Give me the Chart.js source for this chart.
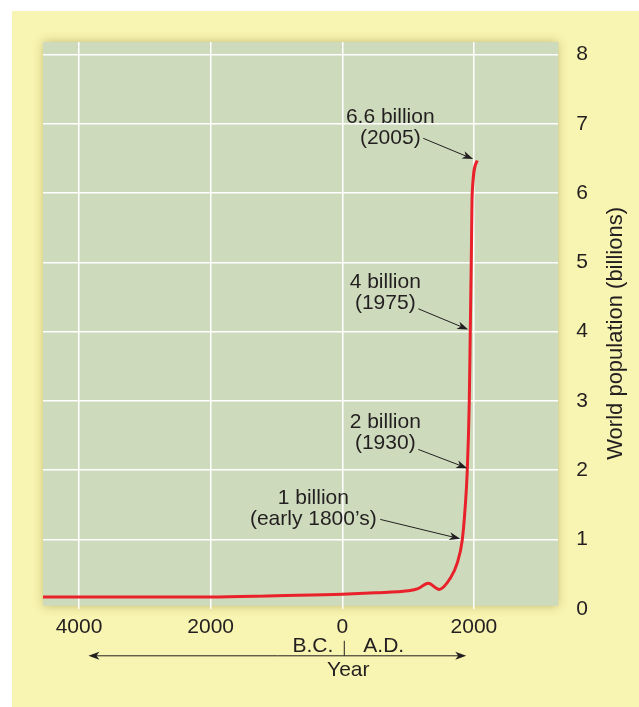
<!DOCTYPE html>
<html lang="en">
<head>
<meta charset="UTF-8">
<title>World population</title>
<script src="https://cdn.jsdelivr.net/npm/chart.js"></script>
<style>
    body { margin: 0; background: #fff; }
    #wrap { width: 639px; height: 707px; }
</style>
</head>
<body>
<div id="wrap"><canvas id="popChart"></canvas></div>
<script>
// values (year, billions)
const years = [-4547, -3000, -2000, -1000, 0, 500, 1000, 1150, 1306, 1473, 1640, 1746, 1822, 1868, 1898, 1929, 1944, 1959, 1974, 2050];
const population = [0.17, 0.17, 0.17, 0.19, 0.21, 0.23, 0.26, 0.29, 0.37, 0.28, 0.44, 0.66, 0.99, 1.48, 1.98, 2.98, 3.98, 4.98, 6.0, 6.47];
const xTicks = [-4000, -2000, 0, 2000];
const yTicks = [0, 1, 2, 3, 4, 5, 6, 7, 8];
const yTitle = 'World population (billions)';
const eraLabels = ['B.C.', 'A.D.'];
const xTitle = 'Year';
const yearArrow = [-3857, 1883];

// callouts: text centre, arrow start and arrow tip, all in (year, billions)
const notes = [
    { lines: ['6.6 billion', '(2005)'], at: [729, 7.10], from: [1230, 6.79], to: [1989, 6.49] },
    { lines: ['4 billion', '(1975)'], at: [653, 4.72], from: [1154, 4.33], to: [1913, 4.03] },
    { lines: ['2 billion', '(1930)'], at: [653, 2.69], from: [1154, 2.30], to: [1898, 2.03] },
    { lines: ['1 billion', '(early 1800\u2019s)'], at: [-440, 1.60], from: [577, 1.29], to: [1792, 1.01] }
];

const FONT = '"Liberation Sans", Arial, Helvetica, sans-serif';
const INK = '#231f20';

function arrow(ctx, x1, y1, x2, y2) {
    const a = Math.atan2(y2 - y1, x2 - x1);
    ctx.beginPath();
    ctx.moveTo(x1, y1);
    ctx.lineTo(x2 - 6 * Math.cos(a), y2 - 6 * Math.sin(a));
    ctx.stroke();
    ctx.save();
    ctx.translate(x2, y2);
    ctx.rotate(a);
    ctx.beginPath();
    ctx.moveTo(0, 0);
    ctx.lineTo(-11, -4);
    ctx.lineTo(-8, 0);
    ctx.lineTo(-11, 4);
    ctx.closePath();
    ctx.fill();
    ctx.restore();
}

const decor = {
    id: 'decor',
    beforeDraw(chart) {
        const { ctx, chartArea: a, width, height } = chart;
        ctx.save();
        ctx.fillStyle = '#fff';
        ctx.fillRect(0, 0, width, height);
        ctx.fillStyle = '#f8f4b1';
        ctx.fillRect(12, 11, width - 12, height - 11);
        ctx.shadowColor = 'rgba(130, 115, 30, 0.45)';
        ctx.shadowBlur = 9;
        ctx.fillStyle = '#cddabc';
        ctx.fillRect(a.left, a.top, a.right - a.left, a.bottom - 3 - a.top);
        ctx.restore();
    },
    afterDraw(chart) {
        const { ctx, chartArea: a } = chart;
        const xs = chart.scales.x, ys = chart.scales.y;
        ctx.save();
        ctx.fillStyle = INK;
        ctx.strokeStyle = INK;
        ctx.lineWidth = 1;
        ctx.font = '21px ' + FONT;
        ctx.textAlign = 'center';
        ctx.textBaseline = 'middle';

        notes.forEach(n => {
            const cx = xs.getPixelForValue(n.at[0]);
            const cy = ys.getPixelForValue(n.at[1]);
            n.lines.forEach((t, i) => ctx.fillText(t, cx, cy + i * 21));
            arrow(ctx, xs.getPixelForValue(n.from[0]), ys.getPixelForValue(n.from[1]),
                xs.getPixelForValue(n.to[0]), ys.getPixelForValue(n.to[1]));
        });

        // y title, reads bottom to top
        ctx.save();
        ctx.font = '22px ' + FONT;
        ctx.translate(a.right + 58, (a.top + a.bottom) / 2 + 8);
        ctx.rotate(-Math.PI / 2);
        ctx.fillText(yTitle, 0, 0);
        ctx.restore();

        // B.C. | A.D. and the Year arrow
        const x0 = xs.getPixelForValue(0) + 2;
        const yb = a.bottom;
        ctx.beginPath();
        ctx.moveTo(x0, yb + 32);
        ctx.lineTo(x0, yb + 47);
        ctx.stroke();
        ctx.textAlign = 'right';
        ctx.fillText(eraLabels[0], x0 - 11, yb + 37);
        ctx.textAlign = 'left';
        ctx.fillText(eraLabels[1], x0 + 19, yb + 37);
        ctx.textAlign = 'center';
        ctx.fillText(xTitle, x0 + 4, yb + 61);
        const l = xs.getPixelForValue(yearArrow[0]);
        const r = xs.getPixelForValue(yearArrow[1]);
        arrow(ctx, (l + r) / 2, yb + 47, l, yb + 47);
        arrow(ctx, (l + r) / 2, yb + 47, r, yb + 47);
        ctx.restore();
    }
};

new Chart(document.getElementById('popChart'), {
    type: 'line',
    data: {
        datasets: [{
            data: years.map((x, i) => ({ x: x, y: population[i] })),
            borderColor: '#e8212a',
            borderWidth: 3,
            pointRadius: 0,
            cubicInterpolationMode: 'monotone',
            fill: false
        }]
    },
    options: {
        responsive: true,
        maintainAspectRatio: false,
        animation: false,
        layout: { padding: { left: 43, top: 42, right: 33, bottom: 61 } },
        plugins: { legend: { display: false }, tooltip: { enabled: false } },
        scales: {
            x: {
                type: 'linear',
                min: -4547,
                max: 3282,
                afterBuildTicks: s => { s.ticks = xTicks.map(v => ({ value: v })); },
                border: { display: false },
                grid: { color: '#ffffff', lineWidth: 1.5, drawTicks: false },
                ticks: {
                    padding: 6,
                    color: INK,
                    font: { family: FONT, size: 21 },
                    callback: v => Math.abs(v)
                }
            },
            y: {
                position: 'right',
                min: 0,
                max: 8.18,
                afterBuildTicks: s => { s.ticks = yTicks.map(v => ({ value: v })); },
                border: { display: false },
                grid: {
                    color: c => (c.tick && c.tick.value === 0) ? 'rgba(0,0,0,0)' : '#ffffff',
                    lineWidth: 1.5,
                    drawTicks: false
                },
                ticks: {
                    padding: 18,
                    color: INK,
                    font: { family: FONT, size: 21 }
                }
            }
        }
    },
    plugins: [decor]
});
</script>
</body>
</html>
